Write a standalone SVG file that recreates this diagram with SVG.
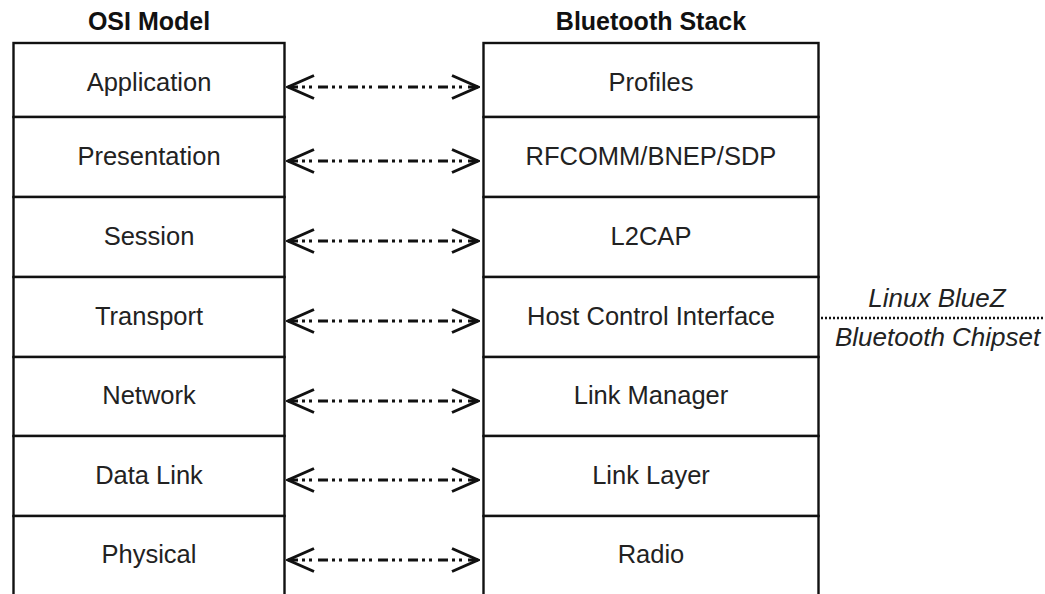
<svg xmlns="http://www.w3.org/2000/svg" width="1045" height="594" viewBox="0 0 1045 594">
<style>
.box{fill:#fff;stroke:#111;stroke-width:2.4}
.lbl{font-family:"Liberation Sans",Arial,sans-serif;font-size:25.5px;fill:#222;text-anchor:middle}
.ttl{font-family:"Liberation Sans",Arial,sans-serif;font-size:25px;font-weight:bold;fill:#111;text-anchor:middle}
.it{font-family:"Liberation Sans",Arial,sans-serif;font-size:26px;font-style:italic;fill:#222}
.conn{fill:none;stroke:#111;stroke-width:2.8;stroke-dasharray:10 4 3 4 3 6}
.dot{fill:none;stroke:#111;stroke-width:2.4;stroke-dasharray:2 2}
</style>
<defs>
<marker id="ch" markerUnits="userSpaceOnUse" viewBox="0 0 30 26" refX="28" refY="13" markerWidth="30" markerHeight="26" orient="auto-start-reverse">
<path d="M2,1.5 L28,13 L2,24.5" fill="none" stroke="#111" stroke-width="3"/>
</marker>
</defs>
<rect width="1045" height="594" fill="#fff"/>
<text class="ttl" x="149" y="30">OSI Model</text>
<text class="ttl" x="651" y="30">Bluetooth Stack</text>
<g id="osi-application"><rect class="box" x="13.5" y="43" width="271" height="74"/><text class="lbl" x="149" y="91">Application</text></g>
<g id="osi-presentation"><rect class="box" x="13.5" y="117" width="271" height="80"/><text class="lbl" x="149" y="165">Presentation</text></g>
<g id="osi-session"><rect class="box" x="13.5" y="197" width="271" height="80"/><text class="lbl" x="149" y="245">Session</text></g>
<g id="osi-transport"><rect class="box" x="13.5" y="277" width="271" height="80"/><text class="lbl" x="149" y="325">Transport</text></g>
<g id="osi-network"><rect class="box" x="13.5" y="357" width="271" height="79"/><text class="lbl" x="149" y="404">Network</text></g>
<g id="osi-datalink"><rect class="box" x="13.5" y="436" width="271" height="80"/><text class="lbl" x="149" y="484">Data Link</text></g>
<g id="osi-physical"><rect class="box" x="13.5" y="516" width="271" height="90"/><text class="lbl" x="149" y="563">Physical</text></g>
<g id="bt-profiles"><rect class="box" x="483.5" y="43" width="335" height="74"/><text class="lbl" x="651" y="91">Profiles</text></g>
<g id="bt-rfcomm"><rect class="box" x="483.5" y="117" width="335" height="80"/><text class="lbl" x="651" y="165">RFCOMM/BNEP/SDP</text></g>
<g id="bt-l2cap"><rect class="box" x="483.5" y="197" width="335" height="80"/><text class="lbl" x="651" y="245">L2CAP</text></g>
<g id="bt-hci"><rect class="box" x="483.5" y="277" width="335" height="80"/><text class="lbl" x="651" y="325">Host Control Interface</text></g>
<g id="bt-lm"><rect class="box" x="483.5" y="357" width="335" height="79"/><text class="lbl" x="651" y="404">Link Manager</text></g>
<g id="bt-ll"><rect class="box" x="483.5" y="436" width="335" height="80"/><text class="lbl" x="651" y="484">Link Layer</text></g>
<g id="bt-radio"><rect class="box" x="483.5" y="516" width="335" height="90"/><text class="lbl" x="651" y="563">Radio</text></g>
<g id="boundary">
<line class="dot" x1="821" y1="318" x2="1045" y2="318"/>
<text class="it" x="937" y="307" text-anchor="middle">Linux BlueZ</text>
<text class="it" x="835" y="346">Bluetooth Chipset</text>
</g>
<g id="connectors">
<line class="conn" x1="288" y1="87" x2="478" y2="87" marker-start="url(#ch)" marker-end="url(#ch)"/>
<line class="conn" x1="288" y1="161" x2="478" y2="161" marker-start="url(#ch)" marker-end="url(#ch)"/>
<line class="conn" x1="288" y1="241" x2="478" y2="241" marker-start="url(#ch)" marker-end="url(#ch)"/>
<line class="conn" x1="288" y1="321" x2="478" y2="321" marker-start="url(#ch)" marker-end="url(#ch)"/>
<line class="conn" x1="288" y1="401" x2="478" y2="401" marker-start="url(#ch)" marker-end="url(#ch)"/>
<line class="conn" x1="288" y1="480" x2="478" y2="480" marker-start="url(#ch)" marker-end="url(#ch)"/>
<line class="conn" x1="288" y1="560" x2="478" y2="560" marker-start="url(#ch)" marker-end="url(#ch)"/>
</g>
</svg>
